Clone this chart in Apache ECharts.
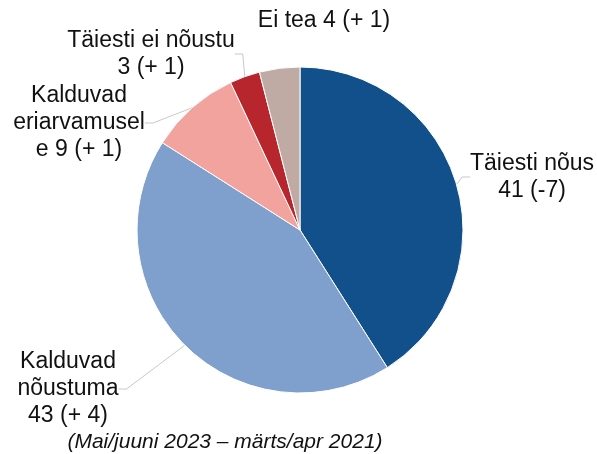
<!DOCTYPE html>
<html>
<head>
<meta charset="utf-8">
<script src="https://cdn.jsdelivr.net/npm/echarts@6/dist/echarts.min.js"></script>
<style>
  html, body { margin: 0; padding: 0; background: #fff; }
  #chart { width: 597px; height: 454px; }
</style>
</head>
<body>
<div id="chart"></div>
<script>
// andmed
const names = ['Täiesti nõus', 'Kalduvad\nnõustuma', 'Kalduvad\neriarvamusel\ne', 'Täiesti ei nõustu', 'Ei tea']
const separators = ['\n', '\n', ' ', '\n', ' ']
const values = [41, 43, 9, 3, 4]
const changes = ['-7', '+ 4', '+ 1', '+ 1', '+ 1']
const colors = ['#11508a', '#7f9fcc', '#f2a39e', '#b7262d', '#c0aba4']
const subtitle = '(Mai/juuni 2023 – märts/apr 2021)'

// sildi kohad (keskpunkt) ja juhtjooned
const labelPos = [
  [532, 177],
  [68, 389],
  [79, 123],
  [151, 54],
  [324, 21],
]
const showLine = [true, true, true, true, false]

const chart = echarts.init(document.getElementById('chart'))
chart.setOption({
  animation: false,
  textStyle: { fontFamily: 'Liberation Sans, Arial, sans-serif' },
  title: {
    text: subtitle,
    left: 220,
    top: 427,
    textAlign: 'center',
    textStyle: { fontSize: 21, fontStyle: 'italic', fontWeight: 'normal', color: '#111' },
  },
  series: [
    {
      type: 'pie',
      center: [300, 230],
      radius: 163,
      startAngle: 90,
      clockwise: true,
      data: values.map((v, i) => ({
        value: v,
        name: names[i],
        itemStyle: { color: colors[i] },
        labelLine: { show: showLine[i] },
      })),
      itemStyle: { borderColor: '#fff', borderWidth: 1 },
      label: {
        position: 'outside',
        color: '#111',
        fontSize: 23,
        lineHeight: 27,
        align: 'center',
        overflow: 'none',
        formatter: (p) =>
          names[p.dataIndex] + separators[p.dataIndex] + p.value + ' (' + changes[p.dataIndex] + ')',
      },
      labelLine: {
        show: true,
        length: 8,
        length2: 8,
        lineStyle: { color: '#c8c8c8', width: 1 },
      },
      labelLayout: (p) => ({
        x: labelPos[p.dataIndex][0],
        y: labelPos[p.dataIndex][1],
        align: 'center',
        verticalAlign: 'middle',
      }),
    },
  ],
})
</script>
</body>
</html>
